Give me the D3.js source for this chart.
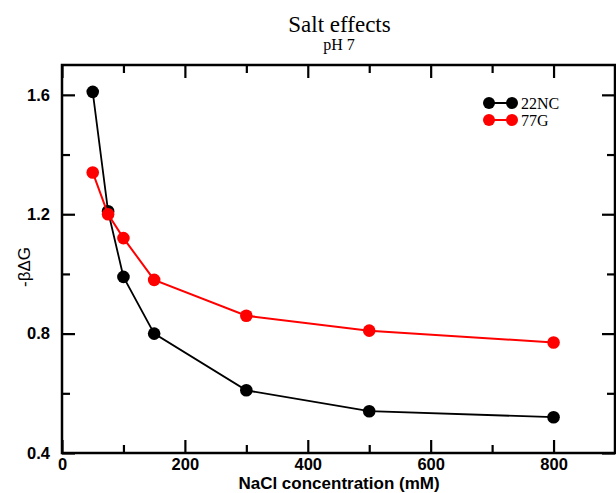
<!DOCTYPE html>
<html><head><meta charset="utf-8">
<script src="https://cdn.jsdelivr.net/npm/d3@7"></script>
<style>body{margin:0;background:#fff}</style>
</head><body><svg id="c" width="616" height="493"></svg>
<script>
const concentrations = [50, 75, 100, 150, 300, 500, 800];
const series22NC = [1.61, 1.21, 0.99, 0.80, 0.61, 0.54, 0.52];
const series77G  = [1.34, 1.20, 1.12, 0.98, 0.86, 0.81, 0.77];
const seriesNames = ["22NC", "77G"];
const seriesColors = ["#000000", "#ff0000"];
const xTicks = [0, 200, 400, 600, 800];
const yTicks = [0.4, 0.8, 1.2, 1.6];

const svg = d3.select("#c");
const L = 62, R = 615, T = 65, B = 453;
const x = d3.scaleLinear().domain([0, 900]).range([L, R]);
const y = d3.scaleLinear().domain([0.4, 1.7]).range([B, T]);

const serif = "'Liberation Serif', 'Times New Roman', serif";
const sans = "'Liberation Sans', Arial, Helvetica, sans-serif";

// title
svg.append("text").attr("x", 339.5).attr("y", 32).attr("text-anchor", "middle")
  .attr("font-family", serif).attr("font-size", 23).text("Salt effects");
svg.append("text").attr("x", 339).attr("y", 50).attr("text-anchor", "middle")
  .attr("font-family", serif).attr("font-size", 16).text("pH 7");

// data
const allSeries = [series22NC, series77G];
const line = d3.line().x((d, i) => x(concentrations[i])).y(d => y(d));
allSeries.forEach((s, k) => {
  const g = svg.append("g");
  g.append("path").attr("d", line(s)).attr("fill", "none")
    .attr("stroke", seriesColors[k]).attr("stroke-width", k === 0 ? 1.8 : 2);
  g.selectAll("circle").data(s).join("circle")
    .attr("cx", (d, i) => x(concentrations[i])).attr("cy", d => y(d))
    .attr("r", 6.3).attr("fill", seriesColors[k]);
});

// axes with inward ticks on all sides
const axisW = 2.5;
function styleAxis(g) {
  g.select(".domain").remove();
  g.selectAll("line").attr("stroke", "#000").attr("stroke-width", 2.2);
  g.selectAll("text").attr("font-family", sans).attr("font-weight", "bold")
    .attr("font-size", 16.5).attr("fill", "#000");
}
const xMinor = d3.range(0, 901, 100).filter(v => !xTicks.includes(v));
const yMinor = [0.6, 1.0, 1.4];

// bottom
svg.append("g").attr("transform", `translate(0,${B})`)
  .call(d3.axisBottom(x).tickValues(xTicks).tickSize(-13).tickPadding(5).tickFormat(d3.format("d")))
  .call(styleAxis);
svg.append("g").attr("transform", `translate(0,${B})`)
  .call(d3.axisBottom(x).tickValues(xMinor).tickSize(-8).tickFormat(""))
  .call(styleAxis);
// top
svg.append("g").attr("transform", `translate(0,${T})`)
  .call(d3.axisTop(x).tickValues(xTicks).tickSize(-13).tickFormat(""))
  .call(styleAxis);
svg.append("g").attr("transform", `translate(0,${T})`)
  .call(d3.axisTop(x).tickValues(xMinor).tickSize(-8).tickFormat(""))
  .call(styleAxis);
// left
svg.append("g").attr("transform", `translate(${L},0)`)
  .call(d3.axisLeft(y).tickValues(yTicks).tickSize(-13).tickPadding(12).tickFormat(d3.format(".1f")))
  .call(styleAxis);
svg.append("g").attr("transform", `translate(${L},0)`)
  .call(d3.axisLeft(y).tickValues(yMinor).tickSize(-8).tickFormat(""))
  .call(styleAxis);
// right
svg.append("g").attr("transform", `translate(${R},0)`)
  .call(d3.axisRight(y).tickValues(yTicks).tickSize(-13).tickFormat(""))
  .call(styleAxis);
svg.append("g").attr("transform", `translate(${R},0)`)
  .call(d3.axisRight(y).tickValues(yMinor).tickSize(-8).tickFormat(""))
  .call(styleAxis);

// frame
svg.append("rect").attr("x", L).attr("y", T).attr("width", R - L).attr("height", B - T)
  .attr("fill", "none").attr("stroke", "#000").attr("stroke-width", axisW);

// axis titles
svg.append("text").attr("x", 339).attr("y", 489).attr("text-anchor", "middle")
  .attr("font-family", sans).attr("font-weight", "bold").attr("font-size", 17)
  .text("NaCl concentration (mM)");
svg.append("text").attr("transform", `translate(30,${(T + B) / 2 + 8}) rotate(-90)`)
  .attr("text-anchor", "middle").attr("font-family", sans).attr("font-size", 17)
  .text("-βΔG");

// legend
const lg = svg.append("g");
seriesNames.forEach((n, k) => {
  const yy = 103 + k * 17;
  lg.append("line").attr("x1", 489).attr("x2", 512).attr("y1", yy).attr("y2", yy)
    .attr("stroke", seriesColors[k]).attr("stroke-width", 2);
  [489, 512].forEach(cx => lg.append("circle").attr("cx", cx).attr("cy", yy).attr("r", 6).attr("fill", seriesColors[k]));
  lg.append("text").attr("x", 521).attr("y", yy + 5.5).attr("font-family", serif)
    .attr("font-size", 16).text(n);
});
</script></body></html>
